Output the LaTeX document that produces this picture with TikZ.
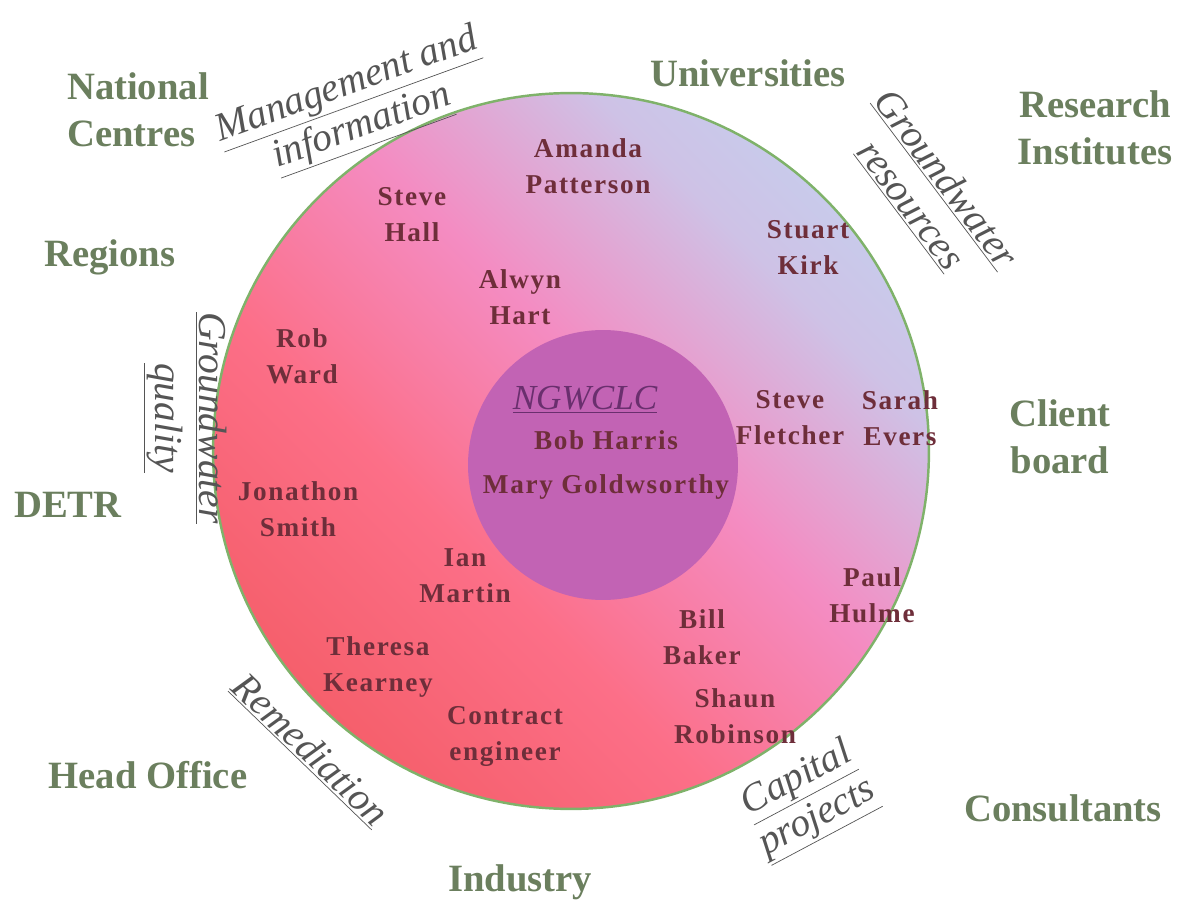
\documentclass[tikz,border=0pt]{standalone}
\usepackage{fontspec}
\setmainfont{Liberation Serif}
\newfontfamily\namefont{Liberation Serif}[LetterSpace=6]
\usetikzlibrary{fadings}

\definecolor{grouptext}{HTML}{6B7F5E}
\definecolor{nametext}{HTML}{6E2E3A}
\definecolor{hubtext}{HTML}{6A2F6E}
\definecolor{themetext}{HTML}{555555}
\definecolor{ringred}{HTML}{F45C66}
\definecolor{ringcoral}{HTML}{FC6F88}
\definecolor{ringpink}{HTML}{F48CC2}
\definecolor{ringlav}{HTML}{CEC2E6}
\definecolor{ringblue}{HTML}{C0D6F2}
\definecolor{hubfill}{HTML}{C263B4}
\definecolor{rimgreen}{HTML}{7FB26A}

% wash for the outer ring, red at one end, blue at the other
\pgfdeclarehorizontalshading{ringwash}{100bp}{color(0bp)=(ringred); color(22bp)=(ringred);
  color(40bp)=(ringcoral); color(55bp)=(ringpink); color(69bp)=(ringlav);
  color(84bp)=(ringblue); color(100bp)=(ringblue)}

\begin{document}
\begin{tikzpicture}[x=0.02cm, y=-0.02cm,
  group/.style={text=grouptext, font=\fontsize{22}{27}\selectfont\bfseries, align=center},
  person/.style={text=nametext, font=\namefont\fontsize{15.5}{20.5}\selectfont\bfseries, align=center},
  theme/.style={text=themetext, font=\fontsize{22.5}{25}\selectfont\itshape, align=center}]
  \useasboundingbox (0,0) rectangle (1190,905);

  % rings
  \coordinate (c) at (571,451);
  \coordinate (hub) at (603,465);
  \shade[shading=ringwash, shading angle=45] (c) circle[radius=7.16cm];
  \fill[hubfill] (hub) circle[radius=2.7cm];
  \draw[rimgreen, line width=1.4pt] (c) circle[radius=7.16cm];

  % outer groups
  \node (natcen) [group, align=left] at (138,110) {National\\Centres};
  \node (unis)   [group] at (748,73) {Universities};
  \node (resins) [group] at (1095,128) {Research\\Institutes};
  \node (regions)[group] at (110,257) {Regions};
  \node (client) [group] at (1060,437) {Client\\board};
  \node (detr)   [group] at (68,505) {DETR};
  \node (headoff)[group] at (148,775) {Head Office};
  \node (industry)[group] at (520,882) {Industry};
  \node (consult)[group] at (1063,808) {Consultants};

  % themes round the rim
  \node (mgmt)   [theme, rotate=20]  at (355,108) {\underline{Management and}\\\underline{information}};
  \node (gwres)  [theme, rotate=-53] at (928,192) {\underline{Groundwater}\\\underline{resources}};
  \node (gwqual) [theme, rotate=-90] at (185,418) {\underline{Groundwater}\\\underline{quality}};
  \node (remed)  [theme, rotate=-44] at (310,750) {\underline{Remediation}};
  \node (capital)[theme, rotate=28]  at (808,800) {\underline{Capital}\\\underline{projects}};

  % people
  \node (ngw)   [text=hubtext, font=\fontsize{20}{22}\selectfont\itshape] at (585,400) {\underline{NGWCLC}};
  \node (bob)   [person] at (606,440) {Bob Harris};
  \node (mary)  [person] at (606,487) {Mary Goldwsorthy};
  \node (amanda)[person] at (588,166) {Amanda\\Patterson};
  \node (hall)  [person] at (412,215) {Steve\\Hall};
  \node (kirk)  [person] at (808,247) {Stuart\\Kirk};
  \node (alwyn) [person] at (520,297) {Alwyn\\Hart};
  \node (ward)  [person] at (302,356) {Rob\\Ward};
  \node (fletch)[person] at (790,418) {Steve\\Fletcher};
  \node (evers) [person] at (900,418) {Sarah\\Evers};
  \node (smith) [person] at (298,509) {Jonathon\\Smith};
  \node (martin)[person] at (465,576) {Ian\\Martin};
  \node (hulme) [person] at (872,595) {Paul\\Hulme};
  \node (baker) [person] at (702,637) {Bill\\Baker};
  \node (kearney)[person] at (378,667) {Theresa\\Kearney};
  \node (shaun) [person] at (735,716) {Shaun\\Robinson};
  \node (eng)   [person] at (505,736) {Contract\\engineer};
\end{tikzpicture}
\end{document}
